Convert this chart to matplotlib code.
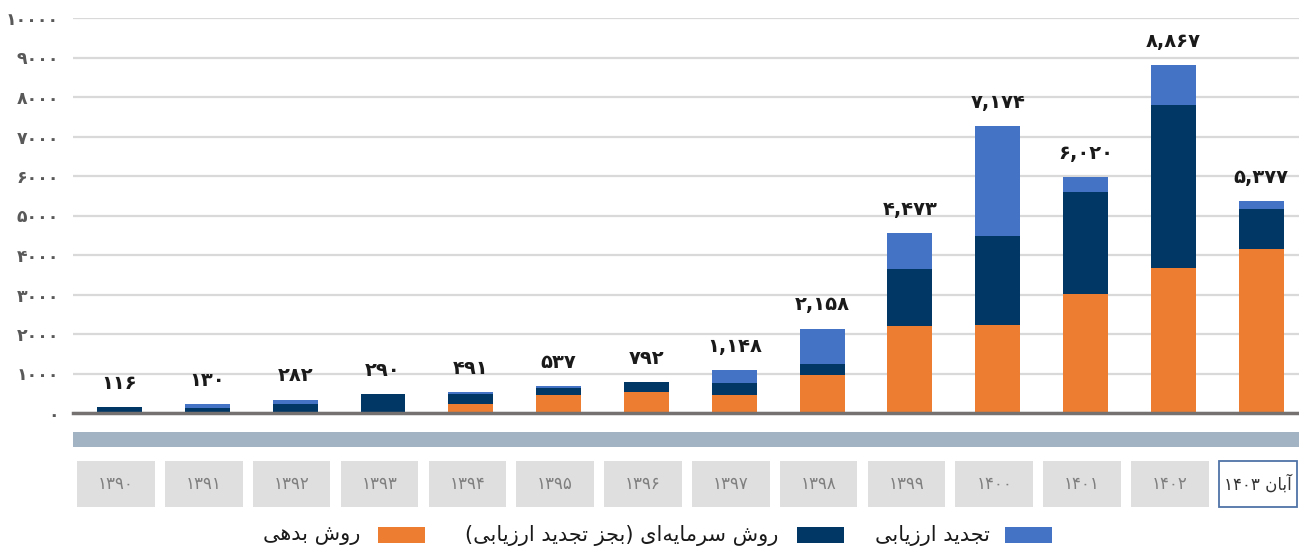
import matplotlib
matplotlib.use("Agg")
import matplotlib.pyplot as plt
from matplotlib.patches import Rectangle

# data
years = ["۱۳۹۰", "۱۳۹۱", "۱۳۹۲", "۱۳۹۳", "۱۳۹۴", "۱۳۹۵", "۱۳۹۶",
         "۱۳۹۷", "۱۳۹۸", "۱۳۹۹", "۱۴۰۰", "۱۴۰۱", "۱۴۰۲", "آبان ۱۴۰۳"]
debt = [0, 0, 0, 0, 230, 455, 530, 455, 960, 2195, 2220, 3023, 3663, 4144]
capital = [145, 125, 230, 470, 250, 175, 250, 300, 280, 1443, 2253, 2565, 4127, 1013]
reval = [0, 100, 100, 0, 50, 50, 0, 330, 890, 911, 2785, 380, 1013, 203]
totals = ["۱۱۶", "۱۳۰", "۲۸۲", "۲۹۰", "۴۹۱", "۵۳۷", "۷۹۲", "۱,۱۴۸", "۲,۱۵۸",
          "۴,۴۷۳", "۷,۱۷۴", "۶,۰۲۰", "۸,۸۶۷", "۵,۳۷۷"]
yticks = [0, 1000, 2000, 3000, 4000, 5000, 6000, 7000, 8000, 9000, 10000]
names = ["روش بدهی", "روش سرمایه\u200cای (بجز تجدید ارزیابی)", "تجدید ارزیابی"]
colors = ["#ED7D31", "#003764", "#4472C4"]

# --- tiny arabic/persian shaper (no arabic_reshaper available) ---
FORMS = {
    "ا": ("\uFE8D", "\uFE8E", None, None),
    "آ": ("\uFE81", "\uFE82", None, None),
    "د": ("\uFEA9", "\uFEAA", None, None),
    "ر": ("\uFEAD", "\uFEAE", None, None),
    "ز": ("\uFEAF", "\uFEB0", None, None),
    "و": ("\uFEED", "\uFEEE", None, None),
    "ب": ("\uFE8F", "\uFE90", "\uFE91", "\uFE92"),
    "ت": ("\uFE95", "\uFE96", "\uFE97", "\uFE98"),
    "ج": ("\uFE9D", "\uFE9E", "\uFE9F", "\uFEA0"),
    "س": ("\uFEB1", "\uFEB2", "\uFEB3", "\uFEB4"),
    "ش": ("\uFEB5", "\uFEB6", "\uFEB7", "\uFEB8"),
    "م": ("\uFEE1", "\uFEE2", "\uFEE3", "\uFEE4"),
    "ن": ("\uFEE5", "\uFEE6", "\uFEE7", "\uFEE8"),
    "ه": ("\uFEE9", "\uFEEA", "\uFEEB", "\uFEEC"),
    "ی": ("\uFBFC", "\uFBFD", "\uFBFE", "\uFBFF"),
}


def dual(c):
    return c in FORMS and FORMS[c][2] is not None


def shape(s):
    out = []
    for i, c in enumerate(s):
        if c not in FORMS:
            out.append(c)
            continue
        prev = s[i - 1] if i > 0 else ""
        nxt = s[i + 1] if i + 1 < len(s) else ""
        jp = dual(prev)
        jn = dual(c) and nxt in FORMS
        iso, fin, ini, med = FORMS[c]
        if jp and jn:
            out.append(med)
        elif jp:
            out.append(fin)
        elif jn:
            out.append(ini)
        else:
            out.append(iso)
    vis = "".join(out).replace("\u200c", "")[::-1]
    return vis.translate(str.maketrans("()", ")("))


def fa(s):
    # keep persian digit runs left-to-right
    parts = s.split(" ")
    if all(p and p[0] in "۰۱۲۳۴۵۶۷۸۹" for p in parts):
        return s
    if len(parts) == 2 and parts[1][0] in "۰۱۲۳۴۵۶۷۸۹":
        return parts[1] + " " + shape(parts[0])
    return shape(s)


W, H = 1299, 550
fig = plt.figure(figsize=(W / 100, H / 100), dpi=100)


def fx(px):
    return px / W


def fy(py):
    return 1 - py / H


ax = fig.add_axes([fx(73), fy(413), fx(1299) - fx(73), fy(18) - fy(413)])
x = list(range(len(years)))
bw = 0.512
b2 = [d + c for d, c in zip(debt, capital)]
tops = [d + c + r for d, c, r in zip(debt, capital, reval)]
ax.bar(x, debt, bw, color=colors[0], zorder=3)
ax.bar(x, capital, bw, bottom=debt, color=colors[1], zorder=3)
ax.bar(x, reval, bw, bottom=b2, color=colors[2], zorder=3)

for i, t in enumerate(tops):
    ax.annotate(totals[i], (i, t), xytext=(0, 24), textcoords="offset pixels",
                ha="center", va="center", fontsize=14, fontweight="bold",
                color="#1a1a1a", annotation_clip=False)

ax.set_xlim(-0.53, 13.43)
ax.set_ylim(0, 10000)
ax.set_yticks(yticks)
ax.set_yticklabels([str(v).translate(str.maketrans("0123456789", "۰۱۲۳۴۵۶۷۸۹")) for v in yticks],
                   fontsize=12.5, fontweight="bold", color="#595959")
ax.tick_params(axis="y", length=0, pad=10)
ax.set_xticks([])
ax.grid(axis="y", color="#d9d9d9", linewidth=1.6, zorder=0)
for sp in ["top", "right", "left"]:
    ax.spines[sp].set_visible(False)
ax.spines["bottom"].set_color("#767171")
ax.spines["bottom"].set_linewidth(2.5)
ax.spines["bottom"].set_zorder(4)

# band and year boxes
ax2 = fig.add_axes([fx(73), fy(510), fx(1299) - fx(73), fy(430) - fy(510)])
ax2.set_xlim(-0.53, 13.43)
ax2.set_ylim(510, 430)
ax2.axis("off")
ax2.add_patch(Rectangle((-0.53, 432), 13.96, 15, color="#A2B4C4", lw=0))
bx = 0.884
for i, y in enumerate(years):
    last = i == len(years) - 1
    ax2.add_patch(Rectangle((i - 0.04 - bx / 2, 461), bx, 46,
                            facecolor="white" if last else "#E0DFE0",
                            edgecolor="#4F73A8" if last else "none", lw=1.3,
                            clip_on=False))
    ax2.text(i - 0.04, 484, fa(y), ha="center", va="center", fontsize=12,
             color="#333333" if last else "#7F7F7F")

# legend, right to left
leg = [(1005, 990, names[2], colors[2]), (797, 778, names[1], colors[1]),
       (378, 360, names[0], colors[0])]
for sq, tx, name, c in leg:
    fig.patches.append(Rectangle((fx(sq), fy(543)), fx(47), fy(527) - fy(543),
                                 transform=fig.transFigure, color=c, lw=0))
    fig.text(fx(tx), fy(535), fa(name), ha="right", va="center", fontsize=15,
             color="#1a1a1a")

fig.savefig("out.png", dpi=100)
